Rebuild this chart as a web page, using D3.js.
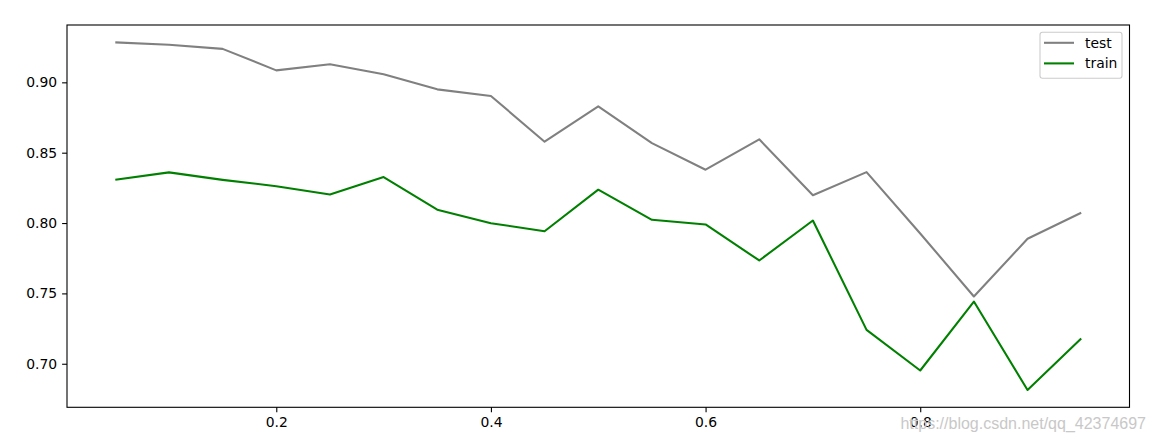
<!DOCTYPE html>
<html><head><meta charset="utf-8">
<script src="https://cdn.jsdelivr.net/npm/d3@7"></script>
<style>body{margin:0;background:#fff;}svg{display:block;}text{font-family:"DejaVu Sans",sans-serif;}</style>
</head><body>
<svg id="c" width="1156" height="442"></svg>
<script>
const xValues = [0.05,0.10,0.15,0.20,0.25,0.30,0.35,0.40,0.45,0.50,0.55,0.60,0.65,0.70,0.75,0.80,0.85,0.90,0.95];
const testValues = [0.9284,0.9267,0.9238,0.9085,0.9128,0.9057,0.8950,0.8903,0.8578,0.8829,0.8568,0.8379,0.8595,0.8198,0.8362,0.7926,0.7478,0.7888,0.8073];
const trainValues = [0.8308,0.8360,0.8307,0.8262,0.8203,0.8327,0.8095,0.7999,0.7942,0.8237,0.8023,0.7990,0.7734,0.8018,0.7241,0.6952,0.7442,0.6814,0.7179];
const xTicks = [0.2,0.4,0.6,0.8];
const yTicks = [0.70,0.75,0.80,0.85,0.90];
const seriesNames = ["test","train"];
const seriesColors = ["#808080","#008000"];

const svg = d3.select("#c");
const L=67, R=1129.5, T=25, B=407.3;
const xmin=d3.min(xValues), xmax=d3.max(xValues), xp=(xmax-xmin)*0.05;
const all=testValues.concat(trainValues);
const ymin=d3.min(all), ymax=d3.max(all), yp=(ymax-ymin)*0.05;
const x=d3.scaleLinear().domain([xmin-xp,xmax+xp]).range([L,R]);
const y=d3.scaleLinear().domain([ymin-yp,ymax+yp]).range([B,T]);

const line=d3.line().x((d,i)=>x(xValues[i])).y(d=>y(d));
[testValues,trainValues].forEach((s,k)=>{
  svg.append("path").datum(s).attr("d",line).attr("fill","none")
    .attr("stroke",seriesColors[k]).attr("stroke-width",2.08).attr("stroke-linejoin","round");
});

const xa=svg.append("g").attr("transform",`translate(0,${B})`)
  .call(d3.axisBottom(x).tickValues(xTicks).tickFormat(d3.format(".1f")).tickSize(4.9).tickPadding(4.9));
const ya=svg.append("g").attr("transform",`translate(${L},0)`)
  .call(d3.axisLeft(y).tickValues(yTicks).tickFormat(d3.format(".2f")).tickSize(4.9).tickPadding(4.9));
[xa,ya].forEach(a=>{
  a.select(".domain").remove();
  a.selectAll("line").attr("stroke","#000").attr("stroke-width",1.1);
  a.selectAll("text").attr("font-size","13.9px").attr("fill","#000").attr("font-family","DejaVu Sans");
});
svg.append("rect").attr("x",L).attr("y",T).attr("width",R-L).attr("height",B-T)
  .attr("fill","none").attr("stroke","#000").attr("stroke-width",1.1);

// legend
const lg=svg.append("g");
lg.append("rect").attr("x",1040).attr("y",32.3).attr("width",82).attr("height",46).attr("rx",2.5)
  .attr("fill","#fff").attr("fill-opacity",0.8).attr("stroke","#ccc").attr("stroke-width",1.1);
seriesNames.forEach((n,k)=>{
  const yy=42.8+k*20.6;
  lg.append("line").attr("x1",1044).attr("x2",1074).attr("y1",yy).attr("y2",yy)
    .attr("stroke",seriesColors[k]).attr("stroke-width",2.08);
  lg.append("text").attr("x",1085).attr("y",yy).attr("dy","0.35em").attr("font-size","13.9px").text(n);
});

// watermark
svg.append("text").attr("x",1146).attr("y",429).attr("text-anchor","end")
  .attr("font-family","Liberation Sans, Arial, sans-serif").attr("font-size","16px")
  .attr("fill","#c8c8c8").style("font-family","Liberation Sans").text("https://blog.csdn.net/qq_42374697");
</script>
</body></html>
